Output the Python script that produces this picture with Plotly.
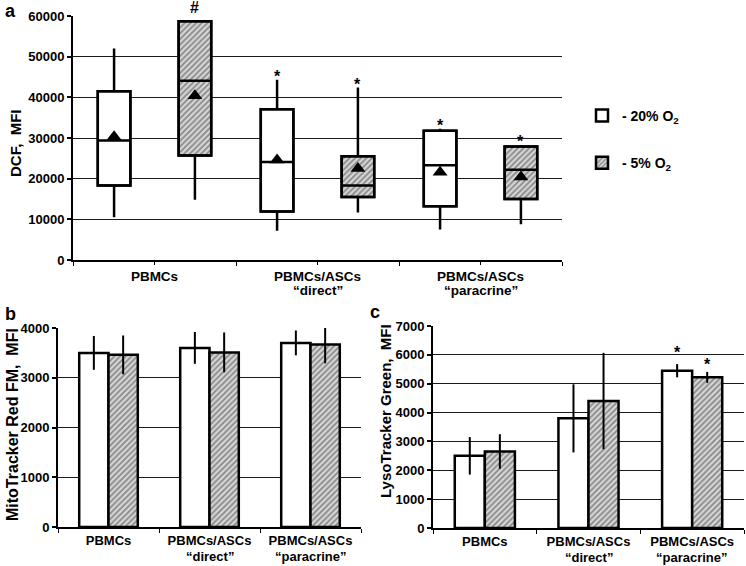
import plotly.graph_objects as go

W, H = 746, 566

# ---------------- data ----------------
cat_line1 = ["PBMCs", "PBMCs/ASCs", "PBMCs/ASCs"]
cat_line2 = ["", "“direct”", "“paracrine”"]
series_names = ["- 20% O<sub>2</sub>", "- 5% O<sub>2</sub>"]

# panel a (DCF, MFI) box statistics
a_low_20 = [10500, 7200, 7500]
a_q1_20 = [18300, 11900, 13200]
a_med_20 = [29400, 24100, 23300]
a_q3_20 = [41500, 37100, 31800]
a_high_20 = [52000, 44300, 32300]
a_mean_20 = [30300, 24600, 21600]
a_marks_20 = ["", "*", "*"]

a_low_5 = [14800, 11700, 8800]
a_q1_5 = [25700, 15500, 15000]
a_med_5 = [44100, 18300, 22200]
a_q3_5 = [58700, 25500, 27900]
a_high_5 = [58700, 42400, 28300]
a_mean_5 = [40400, 22500, 20400]
a_marks_5 = ["#", "*", "*"]

# panel b (MitoTracker Red FM, MFI)
b_20 = [3500, 3600, 3700]
b_err_20 = [340, 320, 250]
b_5 = [3460, 3510, 3670]
b_err_5 = [390, 400, 380]

# panel c (LysoTracker Green, MFI)
c_20 = [2500, 3800, 5450]
c_err_20 = [650, 1180, 230]
c_marks_20 = ["", "", "*"]
c_5 = [2650, 4400, 5220]
c_err_5 = [600, 1670, 190]
c_marks_5 = ["", "", "*"]

# ---------------- styles ----------------
FONT = "Liberation Sans, Arial, sans-serif"
HATCH = dict(shape="/", fgcolor="#3a3a3a", bgcolor="#d6d6d6", size=4, solidity=0.45)
OUT = dict(color="black", width=2.5)
MARK_SHIFT = {"*": -7, "#": 3}


def bold(s):
    return dict(family=FONT, size=s, color="black", weight="bold")


def dom_x(p0, p1):
    return [p0 / W, p1 / W]


def dom_y(p_top, p_bot):
    return [1 - p_bot / H, 1 - p_top / H]


fig = go.Figure()
annotations = []
n = len(cat_line1)

# ---------- panel a ----------
off_a, wid_a = 0.248, 0.2
pos20 = [i + 0.5 - off_a for i in range(n)]
pos5 = [i + 0.5 + off_a for i in range(n)]

for pos, q1, q3, name, pattern, grp in [
    (pos20, a_q1_20, a_q3_20, series_names[0], None, "g20"),
    (pos5, a_q1_5, a_q3_5, series_names[1], HATCH, "g5"),
]:
    marker = dict(color="white", line=OUT)
    if pattern:
        marker = dict(color="#d6d6d6", line=OUT, pattern=pattern)
    fig.add_trace(go.Bar(
        x=pos, y=[b - a for a, b in zip(q1, q3)], base=q1, width=wid_a,
        marker=marker, name=name, legendgroup=grp, showlegend=True,
        xaxis="x", yaxis="y", hoverinfo="skip"))

for pos, lo, q1, med, q3, hi in [
    (pos20, a_low_20, a_q1_20, a_med_20, a_q3_20, a_high_20),
    (pos5, a_low_5, a_q1_5, a_med_5, a_q3_5, a_high_5),
]:
    fig.add_trace(go.Box(
        x=pos, lowerfence=lo, q1=q1, median=med, q3=q3, upperfence=hi,
        width=wid_a, whiskerwidth=0, fillcolor="rgba(0,0,0,0)",
        line=dict(color="black", width=2.5), boxpoints=False,
        showlegend=False, xaxis="x", yaxis="y", hoverinfo="skip"))

fig.add_trace(go.Scatter(
    x=pos20 + pos5, y=a_mean_20 + a_mean_5, mode="markers",
    marker=dict(symbol="triangle-up", size=13, color="black"),
    showlegend=False, xaxis="x", yaxis="y", hoverinfo="skip"))

for pos, hi, marks in [(pos20, a_high_20, a_marks_20), (pos5, a_high_5, a_marks_5)]:
    for x, y, m in zip(pos, hi, marks):
        if m:
            annotations.append(dict(x=x, y=y, xref="x", yref="y", text=m,
                                    showarrow=False, yanchor="bottom", yshift=MARK_SHIFT[m],
                                    font=bold(16)))

# ---------- panels b and c ----------
off_bc, wid_bc = 0.145, 0.29
posb20 = [i - off_bc for i in range(n)]
posb5 = [i + off_bc for i in range(n)]

for ax, v20, e20, v5, e5 in [("2", b_20, b_err_20, b_5, b_err_5),
                             ("3", c_20, c_err_20, c_5, c_err_5)]:
    fig.add_trace(go.Bar(x=posb20, y=v20, width=wid_bc, marker=dict(color="white", line=OUT),
                         error_y=dict(type="data", array=e20, width=0, thickness=2, color="black"),
                         showlegend=False, xaxis="x" + ax, yaxis="y" + ax, hoverinfo="skip"))
    fig.add_trace(go.Bar(x=posb5, y=v5, width=wid_bc,
                         marker=dict(color="#d6d6d6", line=OUT, pattern=HATCH),
                         error_y=dict(type="data", array=e5, width=0, thickness=2, color="black"),
                         showlegend=False, xaxis="x" + ax, yaxis="y" + ax, hoverinfo="skip"))

for pos, vals, errs, marks, shift in [(posb20, c_20, c_err_20, c_marks_20, 1),
                                      (posb5, c_5, c_err_5, c_marks_5, -3)]:
    for x, v, e, m in zip(pos, vals, errs, marks):
        if m:
            annotations.append(dict(x=x, y=v + e, xref="x3", yref="y3", text=m,
                                    showarrow=False, yanchor="bottom", yshift=shift,
                                    font=bold(16)))

# second line of category labels (tight line spacing as in the reference)
for xref, yref, xs, shift, fs in [("x", "y domain", [i + 0.5 for i in range(n)], -31, 13.5),
                                  ("x2", "y2 domain", list(range(n)), -29, 13),
                                  ("x3", "y3 domain", list(range(n)), -29, 13)]:
    for x, t in zip(xs, cat_line2):
        if t:
            annotations.append(dict(x=x, y=0, xref=xref, yref=yref, text=t, showarrow=False,
                                    yanchor="middle", yshift=shift, font=bold(fs)))

# panel letters and axis titles
for txt, x, y in [("a", 10, 11), ("b", 10, 314), ("c", 375, 312)]:
    annotations.append(dict(x=x / W, y=1 - y / H, xref="paper", yref="paper", text=txt,
                            showarrow=False, xanchor="center", yanchor="middle", font=bold(18)))
for txt, x, y, s in [("DCF,  MFI", 15, 143, 15), ("MitoTracker Red FM,  MFI", 12, 425, 16),
                     ("LysoTracker Green,  MFI", 385, 411, 15)]:
    annotations.append(dict(x=x / W, y=1 - y / H, xref="paper", yref="paper", text=txt,
                            textangle=-90, showarrow=False, xanchor="center", yanchor="middle",
                            font=bold(s)))

grid = dict(showgrid=True, gridcolor="#1a1a1a", gridwidth=1.3)
yline = dict(showline=True, linecolor="black", linewidth=2, ticks="outside", ticklen=4,
             tickcolor="black", tickwidth=1.5, tickfont=bold(13), zeroline=False,
             tickformat="d", automargin=False)
xbase = dict(showline=True, linecolor="black", linewidth=2, showgrid=False, zeroline=False,
             tickcolor="black", tickmode="array", ticktext=cat_line1, automargin=False)

fig.update_layout(
    width=W, height=H, margin=dict(l=0, r=0, t=0, b=0, autoexpand=False),
    paper_bgcolor="white", plot_bgcolor="white",
    font=dict(family=FONT, color="black"),
    barmode="overlay", boxmode="overlay",
    xaxis=dict(domain=dom_x(73, 562), range=[0, 3], tickvals=[i + 0.5 for i in range(n)],
               ticks="outside", ticklen=3, tickfont=bold(13.5),
               minor=dict(tickvals=list(range(n + 1)), ticks="outside", ticklen=4,
                          tickcolor="black", showgrid=False),
               anchor="y", **xbase),
    yaxis=dict(domain=dom_y(16, 260), range=[0, 60000], dtick=10000, anchor="x",
               **grid, **yline),
    xaxis2=dict(domain=dom_x(58, 361), range=[-0.5, 2.5], tickvals=list(range(n)),
                ticks="", tickfont=bold(13),
                minor=dict(tickvals=[i - 0.5 for i in range(n + 1)], ticks="outside",
                           ticklen=4, tickcolor="black", showgrid=False),
                anchor="y2", **xbase),
    yaxis2=dict(domain=dom_y(328, 527), range=[0, 4000], dtick=1000, anchor="x2",
                **grid, **yline),
    xaxis3=dict(domain=dom_x(433, 744), range=[-0.5, 2.5], tickvals=list(range(n)),
                ticks="", tickfont=bold(13),
                minor=dict(tickvals=[i - 0.5 for i in range(n + 1)], ticks="outside",
                           ticklen=4, tickcolor="black", showgrid=False),
                anchor="y3", **xbase),
    yaxis3=dict(domain=dom_y(326, 528), range=[0, 7000], dtick=1000, anchor="x3",
                **grid, **yline),
    legend=dict(x=582 / W, y=1 - 100 / H, xanchor="left", yanchor="top",
                font=bold(14), tracegroupgap=26, bgcolor="rgba(0,0,0,0)",
                itemwidth=30),
    annotations=annotations,
)

fig.write_html("out.html", config={"displayModeBar": False},
               post_script="document.body.style.margin='0px';document.body.style.overflow='hidden';")
